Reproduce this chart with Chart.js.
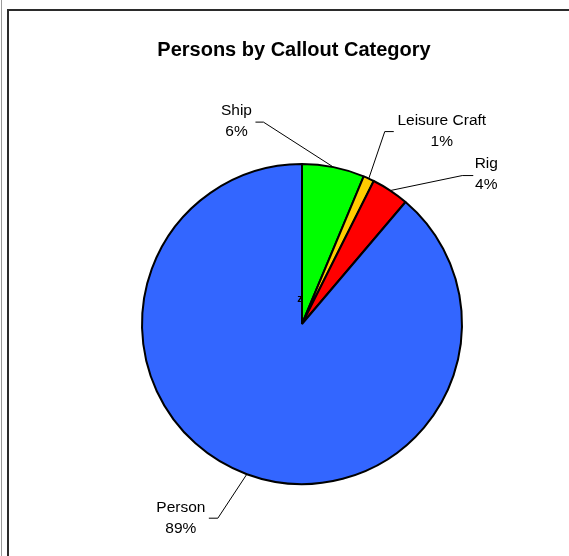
<!DOCTYPE html>
<html lang="en">
<head>
    <meta charset="UTF-8">
    <title>Persons by Callout Category</title>
    <script src="https://cdn.jsdelivr.net/npm/chart.js"></script>
    <style>
        html, body { margin: 0; padding: 0; background: #fff; overflow: hidden; }
        canvas { display: block; }
    </style>
</head>
<body>
    <canvas id="calloutChart" width="569" height="556"></canvas>
    <script>
        // data (share of persons, %)
        const categories = ['Ship', 'Leisure Craft', 'Rig', 'Person'];
        const shares = [6.3, 1.1, 3.8, 88.8];
        const sliceColors = ['#00FF00', '#FFCC00', '#FF0000', '#3366FF'];

        // where each callout sits, relative to the middle of its slice edge
        const calloutLayout = [
            { dx: -97, dy: -46, end: [19, 1], elbow: [27, 1] },
            { dx: 73, dy: -47, end: [-48, 0], elbow: [-57, 0] },
            { dx: 96, dy: -16, end: [-13, 1], elbow: [-24, 1] },
            { dx: -66, dy: 44, end: [28, 0], elbow: [37, 0] }
        ];

        const font = 'Arial, "Liberation Sans", sans-serif';

        const decorations = {
            id: 'decorations',
            beforeDraw(chart) {
                const ctx = chart.ctx;
                ctx.save();
                ctx.fillStyle = '#fff';
                ctx.fillRect(0, 0, chart.width, chart.height);
                // page frame
                ctx.strokeStyle = '#9a9a9a';
                ctx.lineWidth = 1;
                ctx.beginPath();
                ctx.moveTo(1.5, 0);
                ctx.lineTo(1.5, chart.height);
                ctx.stroke();
                ctx.strokeStyle = '#2b2b2b';
                ctx.lineWidth = 2;
                ctx.beginPath();
                ctx.moveTo(8, chart.height);
                ctx.lineTo(8, 10);
                ctx.lineTo(chart.width, 10);
                ctx.stroke();
                // title
                ctx.fillStyle = '#000';
                ctx.font = 'bold 20px ' + font;
                ctx.textAlign = 'center';
                ctx.textBaseline = 'middle';
                ctx.fillText('Persons by Callout Category', 294, 50);
                ctx.restore();
            },
            afterDraw(chart) {
                const ctx = chart.ctx;
                const arcs = chart.getDatasetMeta(0).data;
                const total = shares.reduce((a, b) => a + b, 0);
                ctx.save();
                ctx.fillStyle = '#000';
                ctx.strokeStyle = '#000';
                ctx.lineWidth = 1;
                ctx.font = '15.5px ' + font;
                ctx.textAlign = 'center';
                ctx.textBaseline = 'middle';
                arcs.forEach((arc, i) => {
                    const p = arc.getProps(['x', 'y', 'startAngle', 'endAngle', 'outerRadius'], true);
                    const mid = (p.startAngle + p.endAngle) / 2;
                    const ax = p.x + Math.cos(mid) * p.outerRadius;
                    const ay = p.y + Math.sin(mid) * p.outerRadius;
                    const c = calloutLayout[i];
                    const lx = ax + c.dx;
                    const ly = ay + c.dy;
                    ctx.beginPath();
                    ctx.moveTo(ax, ay);
                    ctx.lineTo(lx + c.elbow[0], ly + c.elbow[1]);
                    ctx.lineTo(lx + c.end[0], ly + c.end[1]);
                    ctx.stroke();
                    ctx.fillText(categories[i], lx, ly - 10.5);
                    ctx.fillText(Math.round(shares[i] / total * 100) + '%', lx, ly + 10.5);
                });
                // stray mark near the centre
                const c0 = arcs[0].getProps(['x', 'y'], true);
                ctx.font = 'bold 11px ' + font;
                ctx.fillText('z', c0.x - 2, c0.y - 25);
                ctx.restore();
            }
        };

        const ctx = document.getElementById('calloutChart').getContext('2d');
        new Chart(ctx, {
            type: 'pie',
            data: {
                labels: categories,
                datasets: [{
                    data: shares,
                    backgroundColor: sliceColors,
                    borderColor: '#000',
                    borderWidth: 2,
                    radius: 160
                }]
            },
            options: {
                responsive: false,
                animation: false,
                layout: { padding: { top: 110, bottom: 18, left: 60, right: 25 } },
                plugins: {
                    legend: { display: false },
                    title: { display: false },
                    tooltip: { enabled: false }
                }
            },
            plugins: [decorations]
        });
    </script>
</body>
</html>
